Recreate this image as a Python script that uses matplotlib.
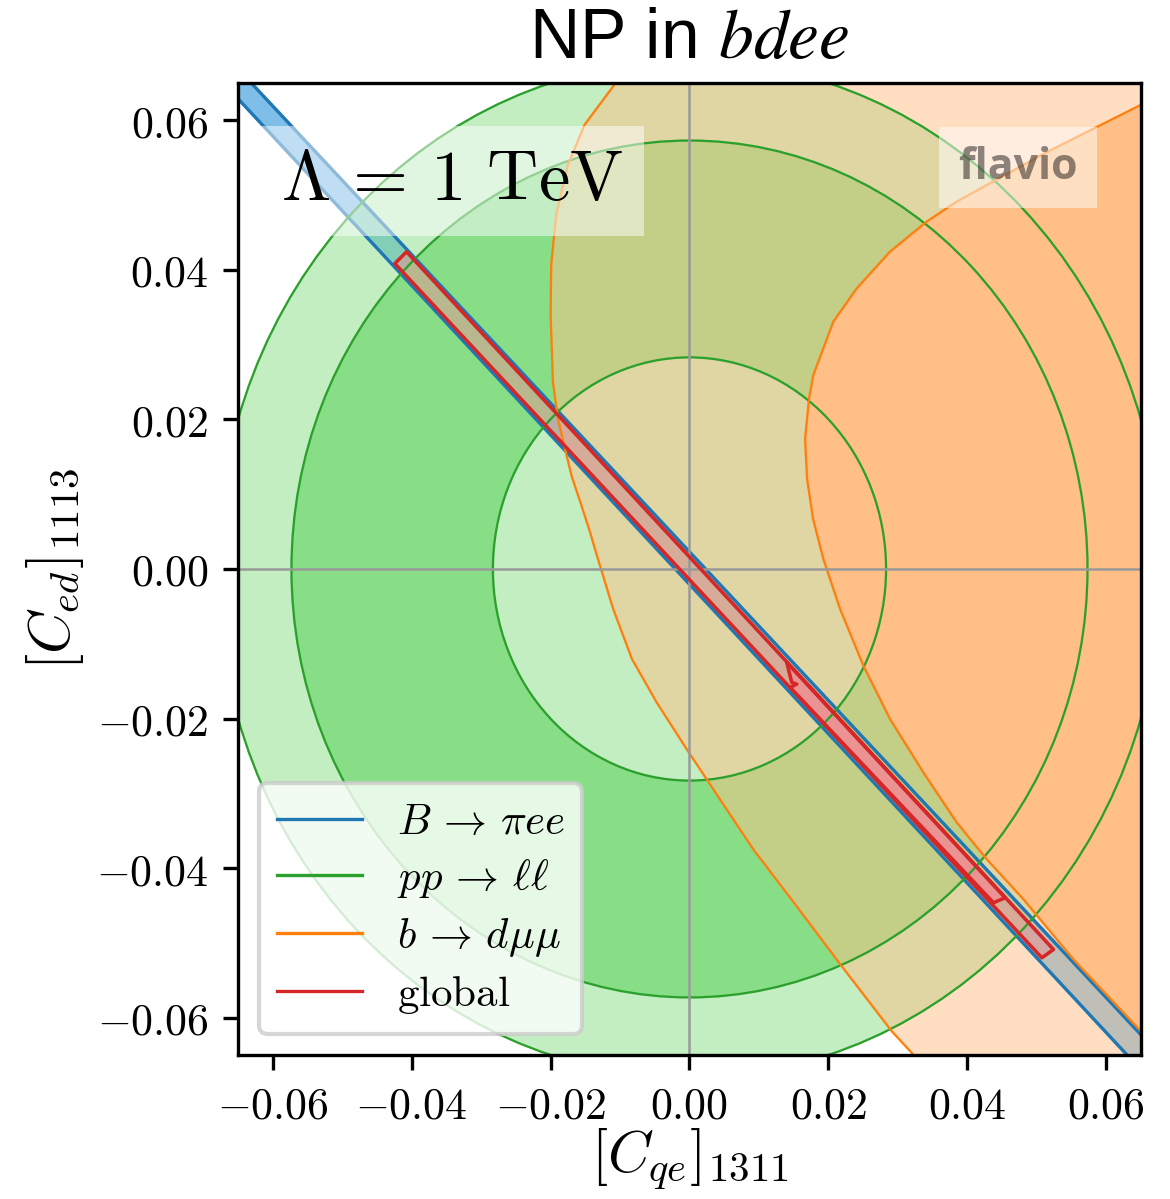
import colorsys
import matplotlib
matplotlib.use("Agg")
import matplotlib.pyplot as plt
import matplotlib.colors as mcolors
from matplotlib.patches import Circle, Wedge, Polygon
from matplotlib.lines import Line2D
from matplotlib.ticker import FuncFormatter

plt.rcParams["mathtext.fontset"] = "cm"
plt.rcParams["font.family"] = ["DejaVu Sans"]

# axis range and ticks
lim = 0.065
ticks = [-0.06, -0.04, -0.02, 0.00, 0.02, 0.04, 0.06]

# pp -> ll : rings around the origin (1 sigma ring between r_in and r_mid)
ll_r_in = 0.0283
ll_r_mid = 0.0573
ll_r_out = 0.068

# b -> d mu mu : 2 sigma (outer) and 1 sigma (inner) contour lines
bdmm_2s_x = [-0.01001, -0.01510, -0.01750, -0.01919, -0.01991, -0.01999, -0.01966,
             -0.01894, -0.01793, -0.01693, -0.01563, -0.01433, -0.01318, -0.01098,
             -0.00828, -0.00472, -0.00040, 0.00439, 0.00919, 0.01534, 0.02192,
             0.02913, 0.03201, 0.03292]
bdmm_2s_y = [0.06576, 0.05942, 0.05406, 0.04737, 0.04067, 0.03398, 0.02504,
             0.02009, 0.01607, 0.01232, 0.00870, 0.00496, 0.00134, -0.00536,
             -0.01205, -0.01785, -0.02411, -0.03080, -0.03750, -0.04500, -0.05313,
             -0.06183, -0.06473, -0.06589]
bdmm_1s_x = [0.06634, 0.06504, 0.05164, 0.03849, 0.03417, 0.02888, 0.02409, 0.02071,
             0.01783, 0.01721, 0.01664, 0.01693, 0.01779, 0.01927, 0.02168, 0.02504,
             0.02888, 0.03368, 0.03849, 0.04281, 0.04809, 0.05529, 0.06504, 0.06634]
bdmm_1s_y = [0.06274, 0.06210, 0.05585, 0.04915, 0.04647, 0.04245, 0.03754, 0.03308,
             0.02594, 0.02277, 0.01741, 0.01205, 0.00670, 0.00134, -0.00536, -0.01295,
             -0.02009, -0.02723, -0.03392, -0.03884, -0.04419, -0.05223, -0.06187, -0.06308]

# B -> pi e e : band edges
bpiee_hi_x = [-0.0633, 0.0650]
bpiee_hi_y = [0.0652, -0.0623]
bpiee_lo_x = [-0.0650, 0.0632]
bpiee_lo_y = [0.0629, -0.0652]

# global fit
glob_2s_x = [-0.04242, -0.04073, 0.05240, 0.05073]
glob_2s_y = [0.04085, 0.04242, -0.05089, -0.05200]
glob_1s_x = [0.01448, 0.01544, 0.01472, 0.01400, 0.04545, 0.04377]
glob_1s_y = [-0.01584, -0.01540, -0.01517, -0.01250, -0.04397, -0.04464]


def lighten(c, amount=0.5):
    h, l, s = colorsys.rgb_to_hls(*mcolors.to_rgb(c))
    return colorsys.hls_to_rgb(h, 1 - amount * (1 - l), s)


blue, green, orange, red = "tab:blue", "tab:green", "tab:orange", "tab:red"

fig = plt.figure(figsize=(3.9, 3.9967), dpi=300)
ax = fig.add_axes([0.2034, 0.1201, 0.7718, 0.8107])
ax.set_xlim(-lim, lim)
ax.set_ylim(-lim, lim)

# --- B -> pi e e
band = list(zip(bpiee_hi_x, bpiee_hi_y)) + [(lim, -lim)] + \
    list(zip(bpiee_lo_x[::-1], bpiee_lo_y[::-1])) + [(-lim, lim)]
ax.add_patch(Polygon(band, closed=True, fc=lighten(blue), ec="none", zorder=1.0))

# --- pp -> ll
lg = lighten(green)
ax.add_patch(Circle((0, 0), ll_r_in, fc=lg, ec="none", alpha=0.5, zorder=1.1))
ax.add_patch(Wedge((0, 0), ll_r_out, 0, 360, width=ll_r_out - ll_r_mid,
                   fc=lg, ec="none", alpha=0.5, zorder=1.1))
ax.add_patch(Wedge((0, 0), ll_r_mid, 0, 360, width=ll_r_mid - ll_r_in,
                   fc=lg, ec="none", zorder=1.1))

# --- b -> d mu mu
lo = lighten(orange)
outer = list(zip(bdmm_2s_x, bdmm_2s_y)) + [(lim + 0.01, -lim - 0.01), (lim + 0.01, lim + 0.01)]
inner = list(zip(bdmm_1s_x, bdmm_1s_y))
ax.add_patch(Polygon(outer, closed=True, fc=lo, ec="none", alpha=0.5, zorder=1.2))
ax.add_patch(Polygon(inner, closed=True, fc=lo, ec="none", zorder=1.2))

# --- global
lr = lighten(red)
ax.add_patch(Polygon(list(zip(glob_2s_x, glob_2s_y)), closed=True, fc=lr, ec="none",
                     alpha=0.5, zorder=1.3))
ax.add_patch(Polygon(list(zip(glob_1s_x, glob_1s_y)), closed=True, fc=lr, ec="none",
                     zorder=1.3))

# contour lines
ax.plot(bpiee_hi_x, bpiee_hi_y, color=blue, lw=0.8, zorder=2.0)
ax.plot(bpiee_lo_x, bpiee_lo_y, color=blue, lw=0.8, zorder=2.0)
for r in (ll_r_in, ll_r_mid, ll_r_out):
    ax.add_patch(Circle((0, 0), r, fc="none", ec=green, lw=0.55, zorder=2.1))
ax.plot(bdmm_2s_x, bdmm_2s_y, color=orange, lw=0.55, zorder=2.2, solid_joinstyle="round")
ax.plot(bdmm_1s_x, bdmm_1s_y, color=orange, lw=0.55, zorder=2.2, solid_joinstyle="round")
ax.axhline(0, color="0.6", lw=0.6, zorder=2.3)
ax.axvline(0, color="0.6", lw=0.6, zorder=2.3)
ax.add_patch(Polygon(list(zip(glob_2s_x, glob_2s_y)), closed=True, fc="none", ec=red,
                     lw=0.85, joinstyle="round", zorder=2.4))
ax.add_patch(Polygon(list(zip(glob_1s_x, glob_1s_y)), closed=True, fc="none", ec=red,
                     lw=0.85, joinstyle="round", zorder=2.4))

# ticks and labels
ax.set_xticks(ticks)
ax.set_yticks(ticks)
fmt = FuncFormatter(lambda v, p: r"$%.2f$" % v)
ax.xaxis.set_major_formatter(fmt)
ax.yaxis.set_major_formatter(fmt)
ax.tick_params(labelsize=10.5)
ax.set_xlabel(r"$[C_{qe}]_{1311}$", fontsize=14, labelpad=0)
ax.set_ylabel(r"$[C_{ed}]_{1113}$", fontsize=14, labelpad=2.5)
ax.set_title(r"NP in $bdee$", fontsize=16.7, family="Liberation Sans", math_fontfamily="stix", pad=6)

ax.text(0.048, 0.935, r"$\Lambda\,=\,1\ \mathrm{TeV}$", transform=ax.transAxes, fontsize=17,
        ha="left", va="top", zorder=5,
        bbox=dict(facecolor="white", alpha=0.5, edgecolor="none", pad=5))
ax.text(0.93, 0.935, "flavio", transform=ax.transAxes, fontsize=10.3, family="Open Sans",
        weight="bold", color="k", alpha=0.45, ha="right", va="top", zorder=5,
        bbox=dict(facecolor="white", alpha=0.5, edgecolor="none", pad=4.5))

handles = [Line2D([], [], color=c, lw=0.8) for c in (blue, green, orange, red)]
labels = [r"$B\,\to\,\pi ee$", r"$pp\,\to\,\ell\ell$", r"$b\,\to\,d\mu\mu$", r"$\mathrm{global}$"]
leg = ax.legend(handles, labels, loc="lower left", fontsize=10.3, labelspacing=0.34)
leg.set_zorder(6)

fig.savefig("out.png", dpi=300)
